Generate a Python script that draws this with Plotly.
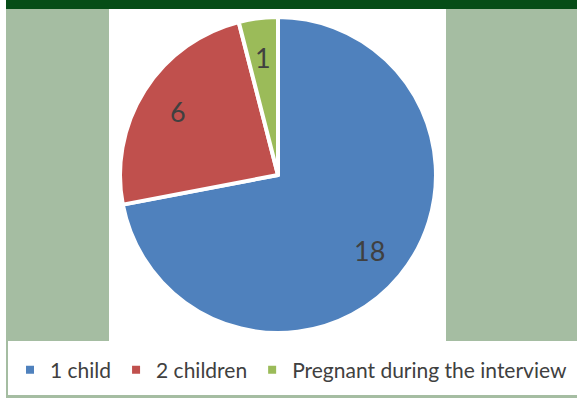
import math
import plotly.graph_objects as go

labels = ["1 child", "2 children", "Pregnant during the interview"]
values = [18, 6, 1]
colors = ["#4F81BD", "#C0504D", "#9BBB59"]

W, H = 577, 398
dom_x = [0.2080, 0.7556]
dom_y = [0.1633, 0.9573]

fig = go.Figure()
fig.add_trace(go.Pie(
    labels=labels, values=values, sort=False, direction="clockwise", rotation=0,
    marker=dict(colors=colors, line=dict(color="white", width=4)),
    textinfo="none",
    domain=dict(x=dom_x, y=dom_y),
    hoverinfo="label+value",
))

# value labels placed along each slice's mid-angle, derived from the data
cx = (dom_x[0] + dom_x[1]) / 2 * W
cy = (1 - (dom_y[0] + dom_y[1]) / 2) * H
R = min((dom_x[1] - dom_x[0]) * W, (dom_y[1] - dom_y[0]) * H) / 2
total = sum(values)
cum = 0
annotations = []
for v in values:
    mid = (cum + v / 2) / total * 2 * math.pi
    cum += v
    r = 0.75 * R
    px = cx + r * math.sin(mid)
    py = cy - r * math.cos(mid)
    annotations.append(dict(x=px / W, y=1 - py / H, xref="paper", yref="paper",
                            xanchor="center", yanchor="middle",
                            text=str(v), showarrow=False,
                            font=dict(size=27, color="#404040", family="Lato")))

def px_rect(x0, y0, x1, y1, color):
    return dict(type="rect", xref="paper", yref="paper",
                x0=x0 / W, x1=x1 / W, y0=1 - y1 / H, y1=1 - y0 / H,
                fillcolor=color, line=dict(width=0), layer="below")

side = "#A5BDA2"
shapes = [
    px_rect(6, 0, 577, 9, "#064D17"),
    px_rect(6, 9, 109, 341, side),
    px_rect(446, 9, 577, 341, side),
    px_rect(6, 341, 8, 398, side),
    px_rect(6, 395, 577, 398, side),
]

fig.update_layout(
    width=W, height=H, margin=dict(l=0, r=0, t=0, b=0),
    paper_bgcolor="white", plot_bgcolor="white",
    shapes=shapes, annotations=annotations,
    showlegend=True,
    legend=dict(orientation="h", x=10 / W, y=1 - 370 / H, xanchor="left", yanchor="middle",
                font=dict(size=21, color="#404040", family="Lato"),
                bgcolor="rgba(0,0,0,0)", itemclick=False, tracegroupgap=0),
)
fig.write_html("out.html")
